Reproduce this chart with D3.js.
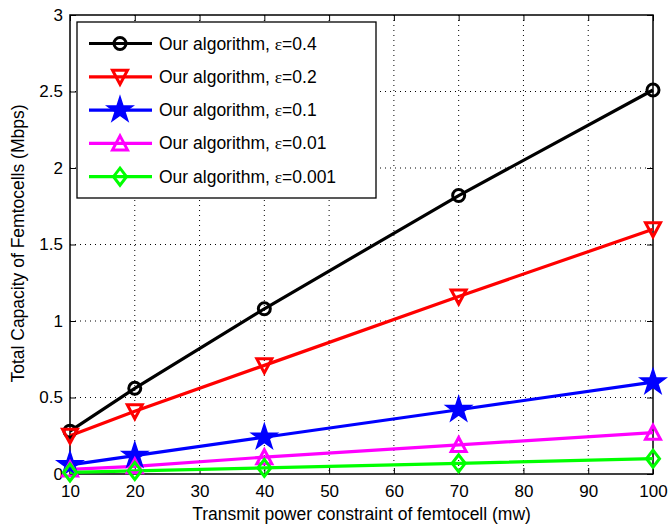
<!DOCTYPE html>
<html><head><meta charset="utf-8">
<script src="https://cdn.jsdelivr.net/npm/d3@7"></script>
<style>body{margin:0;background:#fff}svg{display:block;font-family:"Liberation Sans",Arial,sans-serif}</style>
</head><body><svg id="c" width="668" height="525"></svg>
<script>
const xValues = [10, 20, 40, 70, 100];
const seriesNames = ["Our algorithm, ε=0.4","Our algorithm, ε=0.2","Our algorithm, ε=0.1","Our algorithm, ε=0.01","Our algorithm, ε=0.001"];
const epsLabels = ["0.4","0.2","0.1","0.01","0.001"];
const eps04 = [0.28, 0.56, 1.08, 1.82, 2.51];
const eps02 = [0.25, 0.41, 0.71, 1.16, 1.60];
const eps01 = [0.06, 0.12, 0.24, 0.42, 0.60];
const eps001 = [0.03, 0.05, 0.11, 0.19, 0.27];
const eps0001 = [0.01, 0.02, 0.04, 0.07, 0.10];
const xTicks = [10,20,30,40,50,60,70,80,90,100];
const yTicks = [0,0.5,1,1.5,2,2.5,3];
const colors = ["#000000","#ff0000","#0000ff","#ff00ff","#00ff00"];
const markers = ["circle","triDown","star","triUp","diamond"];
const allSeries = [eps04, eps02, eps01, eps001, eps0001];

const svg = d3.select("#c");
const L=70, R=653, T=15, B=474;
const x = d3.scaleLinear().domain([10,100]).range([L,R]);
const y = d3.scaleLinear().domain([0,3]).range([B,T]);

// grid
const g = svg.append("g");
g.selectAll(".gx").data(xTicks.slice(1,-1)).enter().append("line")
 .attr("x1",d=>x(d)).attr("x2",d=>x(d)).attr("y1",T).attr("y2",B)
 .attr("stroke","#000").attr("stroke-width",1).attr("stroke-dasharray","1,4");
g.selectAll(".gy").data(yTicks.slice(1,-1)).enter().append("line")
 .attr("y1",d=>y(d)).attr("y2",d=>y(d)).attr("x1",L).attr("x2",R)
 .attr("stroke","#000").attr("stroke-width",1).attr("stroke-dasharray","1,4");

// axes
const xa = svg.append("g").attr("transform",`translate(0,${B})`)
 .call(d3.axisBottom(x).tickValues(xTicks).tickSizeInner(-6).tickSizeOuter(0).tickPadding(11).tickFormat(d3.format("d")));
const xt = svg.append("g").attr("transform",`translate(0,${T})`)
 .call(d3.axisTop(x).tickValues(xTicks).tickSizeInner(-6).tickSizeOuter(0).tickFormat(""));
const ya = svg.append("g").attr("transform",`translate(${L},0)`)
 .call(d3.axisLeft(y).tickValues(yTicks).tickSizeInner(-6).tickSizeOuter(0).tickPadding(7).tickFormat(d=>d3.format("")(d)));
const yr = svg.append("g").attr("transform",`translate(${R},0)`)
 .call(d3.axisRight(y).tickValues(yTicks).tickSizeInner(-6).tickSizeOuter(0).tickFormat(""));
[xa,xt,ya,yr].forEach(a=>{
  a.selectAll("path.domain").remove();
  a.selectAll("line").attr("stroke","#000");
  a.selectAll("text").attr("font-size",17).attr("fill","#000").attr("font-family","Liberation Sans, Arial, sans-serif");
});
svg.append("rect").attr("x",L).attr("y",T).attr("width",R-L).attr("height",B-T)
 .attr("fill","none").attr("stroke","#000").attr("stroke-width",1.5);

// markers
function drawMarker(sel, type, color){
  if(type==="circle"){
    sel.append("circle").attr("r",6).attr("fill","none").attr("stroke",color).attr("stroke-width",3);
  } else if(type==="triDown"){
    sel.append("path").attr("d","M-7.5,-6.5L7.5,-6.5L0,7.5Z").attr("fill","none").attr("stroke",color).attr("stroke-width",3);
  } else if(type==="triUp"){
    sel.append("path").attr("d","M-7.5,6.5L7.5,6.5L0,-7.5Z").attr("fill","none").attr("stroke",color).attr("stroke-width",3);
  } else if(type==="star"){
    sel.append("path").attr("d",d3.symbol(d3.symbolStar,200)()).attr("fill",color).attr("stroke",color).attr("stroke-width",1.5);
  } else if(type==="diamond"){
    sel.append("path").attr("d","M0,-8.5L6.5,0L0,8.5L-6.5,0Z").attr("fill","none").attr("stroke",color).attr("stroke-width",3);
  }
}

const line = d3.line().x((d,i)=>x(xValues[i])).y(d=>y(d));
allSeries.forEach((vals,k)=>{
  svg.append("path").datum(vals).attr("d",line).attr("fill","none")
    .attr("stroke",colors[k]).attr("stroke-width",3.2);
});
allSeries.forEach((vals,k)=>{
  vals.forEach((v,i)=>{
    const m = svg.append("g").attr("transform",`translate(${x(xValues[i])},${y(v)})`);
    drawMarker(m, markers[k], colors[k]);
  });
});

// legend
const lg = svg.append("g");
lg.append("rect").attr("x",77).attr("y",22).attr("width",299).attr("height",176)
 .attr("fill","#fff").attr("stroke","#000").attr("stroke-width",1.3);
seriesNames.forEach((name,k)=>{
  const yy = 43.5 + k*33.3;
  lg.append("line").attr("x1",89).attr("x2",152).attr("y1",yy).attr("y2",yy)
    .attr("stroke",colors[k]).attr("stroke-width",3.2);
  const m = lg.append("g").attr("transform",`translate(120,${yy})`);
  drawMarker(m, markers[k], colors[k]);
  const t = lg.append("text").attr("x",159).attr("y",yy+6).attr("font-size",17.5).attr("fill","#000");
  t.append("tspan").text("Our algorithm, ");
  t.append("tspan").attr("font-family","Liberation Serif, serif").text("ε");
  t.append("tspan").text("=" + epsLabels[k]);
});

// titles
svg.append("text").attr("x",(L+R)/2 - 0).attr("y",520).attr("text-anchor","middle")
 .attr("font-size",17.5).text("Transmit power constraint of femtocell (mw)");
svg.append("text").attr("transform",`translate(24,${(T+B)/2 - 1}) rotate(-90)`).attr("text-anchor","middle")
 .attr("font-size",17.5).text("Total Capacity of Femtocells (Mbps)");
</script></body></html>
